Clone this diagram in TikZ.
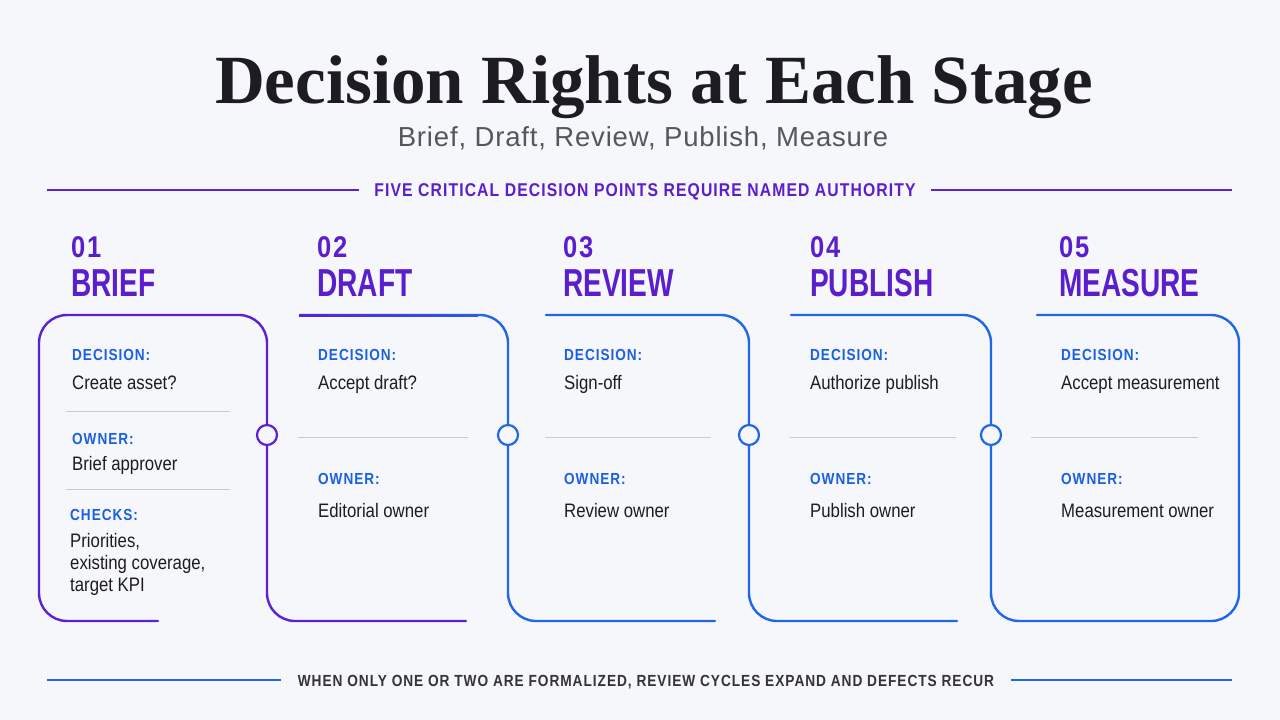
\documentclass[tikz,border=0pt]{standalone}
\usepackage{fontspec}
\usepackage{xcolor}
\usepackage{tikz}
\setmainfont{Liberation Sans}
\newfontfamily\titlefont{Liberation Serif}
\newfontfamily\bodyfont{Liberation Sans}[FakeStretch=0.86]
\newfontfamily\capsfont{Liberation Sans}[FakeStretch=0.85,LetterSpace=6]
\newfontfamily\headfont{Liberation Sans}[FakeStretch=0.72]
\newfontfamily\subfont{Liberation Sans}[LetterSpace=3]
\definecolor{bgpaper}{HTML}{F6F7FA}
\definecolor{railpurple}{HTML}{5B21D6}
\definecolor{railblue}{HTML}{2066E8}
\definecolor{headpurple}{HTML}{5A1ECE}
\definecolor{labelblue}{HTML}{1B5FE4}
\definecolor{inkdark}{HTML}{1C1C22}
\definecolor{inkgray}{HTML}{55565E}
\definecolor{rulegray}{HTML}{C9CACF}
\tikzset{
	stagerail/.style={line width=2.4pt,rounded corners=28pt,line cap=round},
	stageknot/.style={circle,draw,line width=2.2pt,fill=bgpaper,minimum size=20pt,inner sep=0pt},
	stagerule/.style={draw=rulegray,line width=1pt},
	stagenum/.style={anchor=base west,inner sep=0pt,text=headpurple,font=\capsfont\bfseries\fontsize{30}{34}\selectfont},
	stagename/.style={anchor=base west,inner sep=0pt,text=headpurple,font=\headfont\bfseries\fontsize{39}{44}\selectfont},
	fieldlabel/.style={anchor=base west,inner sep=0pt,text=labelblue,font=\capsfont\bfseries\fontsize{16}{19}\selectfont},
	fieldvalue/.style={anchor=base west,inner sep=0pt,text=inkdark,font=\bodyfont\fontsize{19.5}{22}\selectfont}
}
\begin{document}
\begin{tikzpicture}[x=1pt,y=-1pt]
	\fill[bgpaper] (0,0) rectangle (1280,720);
	\useasboundingbox (0,0) rectangle (1280,720);
	\node[anchor=base,inner sep=0pt,text=inkdark,font=\titlefont\bfseries\fontsize{69}{80}\selectfont] (title) at (654,103) {Decision Rights at Each Stage};
	\node[anchor=base,inner sep=0pt,text=inkgray,font=\subfont\fontsize{27.5}{32}\selectfont] (subtitle) at (643,146) {Brief, Draft, Review, Publish, Measure};
	\node[anchor=base,inner xsep=15pt,inner ysep=0pt,text=headpurple,font=\capsfont\bfseries\fontsize{18.5}{22}\selectfont] (band) at (645,196) {FIVE CRITICAL DECISION POINTS REQUIRE NAMED AUTHORITY};
	\coordinate (bandL) at (47,190);
	\coordinate (bandR) at (1232,190);
	\draw[railpurple,line width=2pt] (bandL) -- (bandL -| band.west);
	\draw[railpurple,line width=2pt] (band.east |- bandR) -- (bandR);
	\node[stagenum] (n1) at (71,257) {01};
	\node[stagenum] (n2) at (317,257) {02};
	\node[stagenum] (n3) at (563,257) {03};
	\node[stagenum] (n4) at (810,257) {04};
	\node[stagenum] (n5) at (1059,257) {05};
	\node[stagename] (h1) at (71,296) {BRIEF};
	\node[stagename] (h2) at (317,296) {DRAFT};
	\node[stagename] (h3) at (563,296) {REVIEW};
	\node[stagename] (h4) at (810,296) {PUBLISH};
	\node[stagename] (h5) at (1059,296) {MEASURE};
	\draw[stagerail,railpurple] (158,621) -- (39,621) -- (39,315) -- (267,315) -- (267,621) -- (466,621);
	\draw[stagerail,railblue] (300,315) -- (508,315) -- (508,621) -- (715,621);
	\shade[left color=railpurple,right color=railblue!85!railpurple] (299,314) rectangle (478,316);
	\draw[stagerail,railblue] (546,315) -- (749,315) -- (749,621) -- (957,621);
	\draw[stagerail,railblue] (791,315) -- (991,315) -- (991,621) -- (1239,621) -- (1239,315) -- (1037,315);
	\node[stageknot,draw=railpurple] (k1) at (267,435) {};
	\node[stageknot,draw=railblue] (k2) at (508,435) {};
	\node[stageknot,draw=railblue] (k3) at (749,435) {};
	\node[stageknot,draw=railblue] (k4) at (991,435) {};
	\node[fieldlabel] (b-dec) at (72,360) {DECISION:};
	\node[fieldvalue] (b-decv) at (72,389) {Create asset?};
	\draw[stagerule] (66,411) -- (230,411);
	\node[fieldlabel] (b-own) at (72,444) {OWNER:};
	\node[fieldvalue] (b-ownv) at (72,470) {Brief approver};
	\draw[stagerule] (66,489) -- (230,489);
	\node[fieldlabel] (b-chk) at (70,520) {CHECKS:};
	\node[fieldvalue] (b-chk1) at (70,547) {Priorities,};
	\node[fieldvalue] (b-chk2) at (70,569) {existing coverage,};
	\node[fieldvalue] (b-chk3) at (70,591) {target KPI};
	\foreach \x/\ra/\rb/\id/\dec/\own in {318/298/468/d/Accept draft?/Editorial owner,564/545/711/r/Sign-off/Review owner,810/790/956/p/Authorize publish/Publish owner,1061/1031/1198/m/Accept measurement/Measurement owner}{
		\node[fieldlabel] (\id-dec) at (\x,360) {DECISION:};
		\node[fieldvalue] (\id-decv) at (\x,389) {\dec};
		\draw[stagerule] (\ra,437) -- (\rb,437);
		\node[fieldlabel] (\id-own) at (\x,484) {OWNER:};
		\node[fieldvalue] (\id-ownv) at (\x,517) {\own};
	}
	\node[anchor=base,inner xsep=17pt,inner ysep=0pt,text=inkdark!90,font=\capsfont\bfseries\fontsize{16.1}{19}\selectfont] (foot) at (646,686) {WHEN ONLY ONE OR TWO ARE FORMALIZED, REVIEW CYCLES EXPAND AND DEFECTS RECUR};
	\coordinate (footL) at (47,680);
	\coordinate (footR) at (1232,680);
	\draw[railblue,line width=1.8pt] (footL) -- (footL -| foot.west);
	\draw[railblue,line width=1.8pt] (foot.east |- footR) -- (footR);
\end{tikzpicture}
\end{document}
